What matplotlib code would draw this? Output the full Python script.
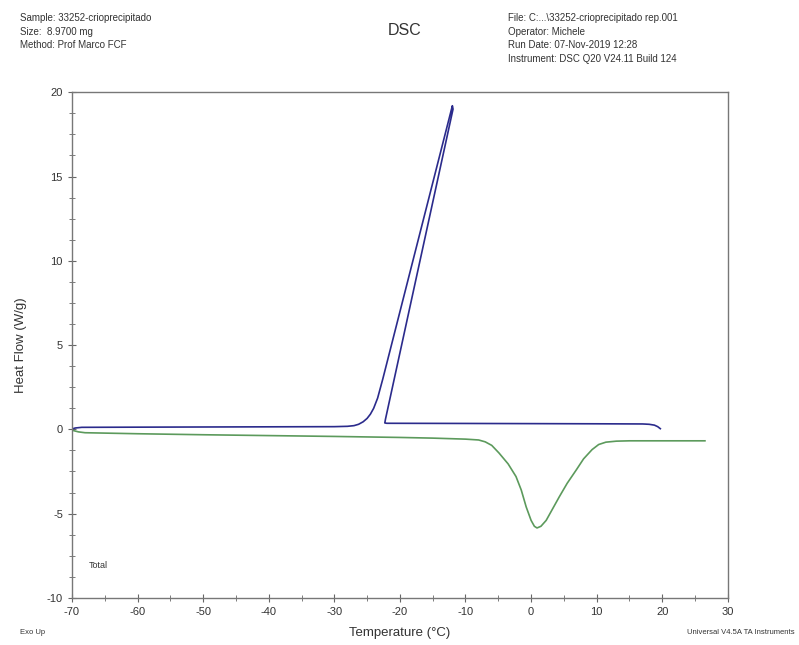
import numpy as np
import matplotlib.pyplot as plt
from matplotlib.ticker import MultipleLocator

plt.rcParams["font.family"] = ["Liberation Sans", "DejaVu Sans"]
plt.rcParams["axes.unicode_minus"] = False

# blue trace (cooling / heating loop) in drawing order
blue_t = [-70.0, -69.5, -68.5, -60, -50, -40, -30, -28.0, -27.0, -26.3, -25.6,
          -25.0, -24.5, -24.0, -23.4, -22.6, -12.0, -11.9, -22.2, -22.3, -22.0,
          -10, 0, 10, 17.0, 18.0, 18.8, 19.3, 19.7]
blue_hf = [0.02, 0.08, 0.12, 0.13, 0.14, 0.15, 0.16, 0.18, 0.22, 0.30, 0.45,
           0.65, 0.90, 1.25, 1.85, 3.00, 19.2, 19.0, 0.60, 0.38, 0.36,
           0.35, 0.34, 0.33, 0.32, 0.30, 0.25, 0.16, 0.04]

# green trace (heating, melting endotherm)
green_t = [-70.0, -69.0, -68.0, -60, -50, -40, -30, -20, -15, -10, -8, -7, -6,
           -4.9, -3.5, -2.3, -1.5, -0.75, 0, 0.5, 0.9, 1.5, 2.3, 3.3, 4.3, 5.5,
           6.9, 8.0, 9.3, 10.3, 11.4, 13, 15, 20, 26.5]
green_hf = [-0.05, -0.15, -0.20, -0.26, -0.32, -0.37, -0.42, -0.48, -0.52,
            -0.58, -0.63, -0.74, -0.95, -1.40, -2.05, -2.80, -3.60, -4.60,
            -5.40, -5.75, -5.85, -5.75, -5.40, -4.70, -4.00, -3.20, -2.40,
            -1.75, -1.20, -0.90, -0.76, -0.70, -0.68, -0.68, -0.68]

header_left = ["Sample: 33252-crioprecipitado", "Size:  8.9700 mg",
               "Method: Prof Marco FCF"]
header_right = ["File: C:...\\33252-crioprecipitado rep.001", "Operator: Michele",
                "Run Date: 07-Nov-2019 12:28",
                "Instrument: DSC Q20 V24.11 Build 124"]

fig = plt.figure(figsize=(7.99, 6.45), dpi=100)
ax = fig.add_axes([0.090, 0.073, 0.821, 0.784])

ax.plot(green_t, green_hf, color="#5c9a5c", lw=1.2)
ax.plot(blue_t, blue_hf, color="#2b2b8c", lw=1.2)

ax.set_xlim(-70, 30)
ax.set_ylim(-10, 20)
ax.xaxis.set_major_locator(MultipleLocator(10))
ax.xaxis.set_minor_locator(MultipleLocator(5))
ax.yaxis.set_major_locator(MultipleLocator(5))
ax.yaxis.set_minor_locator(MultipleLocator(1.25))
ax.tick_params(which="both", direction="inout", colors="#666666",
               labelcolor="#333333", labelsize=8)
ax.tick_params(which="major", length=6)
ax.tick_params(which="minor", length=4)
ax.tick_params(top=False, right=False)
for s in ax.spines.values():
    s.set_color("#777777")
    s.set_linewidth(1.0)

ax.set_xlabel("Temperature (°C)", fontsize=9.5, color="#333333", labelpad=7)
ax.set_ylabel("Heat Flow (W/g)", fontsize=9.5, color="#333333", labelpad=14)
ax.text(-67.5, -8.2, "Total", fontsize=6.5, color="#333333")

for i, line in enumerate(header_left):
    fig.text(0.025, 0.972 - i * 0.021, line, fontsize=7, color="#333333",
             va="center")
for i, line in enumerate(header_right):
    fig.text(0.636, 0.972 - i * 0.021, line, fontsize=7, color="#333333",
             va="center")
fig.text(0.507, 0.953, "DSC", fontsize=11.5, color="#333333", ha="center",
         va="center")
fig.text(0.025, 0.020, "Exo Up", fontsize=5.5, color="#333333", va="center")
fig.text(0.995, 0.020, "Universal V4.5A TA Instruments", fontsize=5.5,
         color="#333333", ha="right", va="center")

fig.savefig("out.png", dpi=100)
